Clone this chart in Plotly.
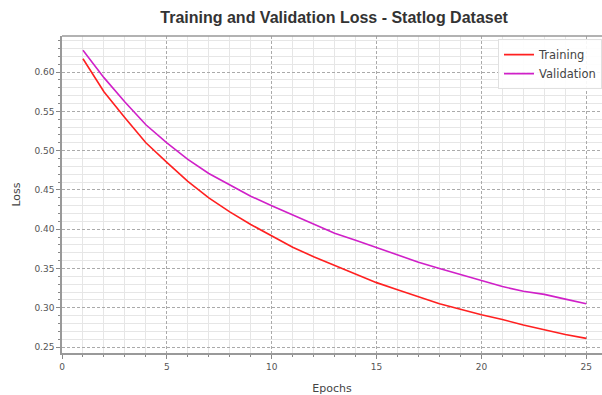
import plotly.graph_objects as go

epochs = list(range(1, 26))
train_loss = [0.617, 0.575, 0.542, 0.510, 0.485, 0.461, 0.440, 0.422, 0.406, 0.391,
              0.377, 0.365, 0.354, 0.343, 0.332, 0.323, 0.314, 0.305, 0.298, 0.291,
              0.285, 0.278, 0.272, 0.266, 0.261]
val_loss = [0.628, 0.593, 0.562, 0.533, 0.510, 0.489, 0.471, 0.456, 0.442, 0.430,
            0.418, 0.406, 0.395, 0.386, 0.377, 0.367, 0.358, 0.350, 0.342, 0.334,
            0.327, 0.321, 0.317, 0.311, 0.305]

fig = go.Figure()
fig.add_trace(go.Scatter(x=epochs, y=train_loss, mode="lines", name="Training",
                         line=dict(color="#ff2020", width=1.6)))
fig.add_trace(go.Scatter(x=epochs, y=val_loss, mode="lines", name="Validation",
                         line=dict(color="#d020c8", width=1.6)))

axis_common = dict(
    showline=True, linecolor="#999999", linewidth=1.5, mirror=False,
    showgrid=True, gridcolor="#aaaaaa", griddash="3px,2px", gridwidth=0.8,
    ticks="outside", ticklen=4, tickcolor="#888888",
    tickfont=dict(family="DejaVu Sans", size=9, color="#555555"),
    zeroline=False,
)

fig.update_xaxes(
    **axis_common, range=[0, 25.75], tick0=0, dtick=5,
    minor=dict(dtick=1, showgrid=True, gridcolor="#e6e6e6", gridwidth=0.8, griddash="solid",
               ticks="outside", ticklen=2, tickcolor="#888888"),
    title=dict(text="Epochs", font=dict(family="DejaVu Sans", size=11, color="#444444"), standoff=14),
)
fig.update_yaxes(
    **axis_common, range=[0.2424, 0.646], tick0=0.25, dtick=0.05, tickformat=".2f",
    minor=dict(dtick=0.01, showgrid=True, gridcolor="#e6e6e6", gridwidth=0.8, griddash="solid",
               ticks="outside", ticklen=2, tickcolor="#888888"),
    title=dict(text="Loss", font=dict(family="DejaVu Sans", size=11, color="#444444"), standoff=12),
)

fig.add_shape(type="line", xref="paper", yref="paper", x0=0, x1=1, y0=1, y1=1,
              line=dict(color="#999999", width=1.5))

fig.update_layout(
    width=602, height=395,
    margin=dict(l=62, r=0, t=36, b=42),
    paper_bgcolor="white", plot_bgcolor="white",
    title=dict(text="<b>Training and Validation Loss - Statlog Dataset</b>",
               x=0.555, xanchor="center", y=0.955, yanchor="middle",
               font=dict(family="Liberation Sans", size=16, color="#333333")),
    legend=dict(x=1.0, y=0.99, xanchor="right", yanchor="top",
                bgcolor="rgba(255,255,255,0.9)", bordercolor="#e0e0e0", borderwidth=1,
                font=dict(family="DejaVu Sans", size=11.5, color="#444444"),
                tracegroupgap=0, itemwidth=30),
    showlegend=True,
)

fig.write_html("out.html")
